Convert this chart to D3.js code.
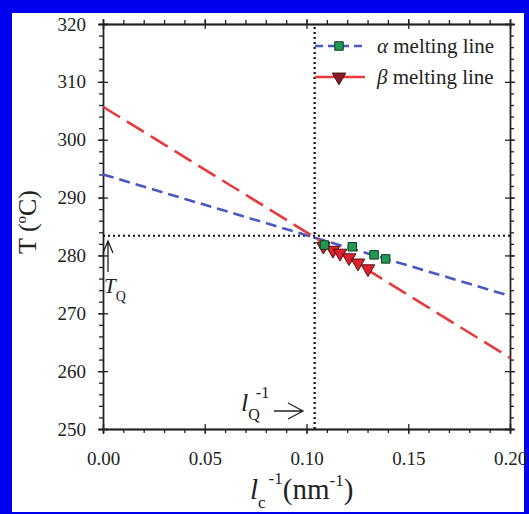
<!DOCTYPE html>
<html><head><meta charset="utf-8">
<script src="https://cdn.jsdelivr.net/npm/d3@7"></script>
<style>
html,body{margin:0;padding:0;background:#fff;}
svg{display:block;}
svg text{font-family:"Liberation Serif","Times New Roman",serif !important;fill:#222;}
</style></head>
<body>
<svg id="chart" width="529" height="514" font-family="Liberation Serif"></svg>
<script>
// ---- data ----
const xTicks = [0.00, 0.05, 0.10, 0.15, 0.20];
const yTicks = [250, 260, 270, 280, 290, 300, 310, 320];
const alphaLineX = [0.0, 0.2];
const alphaLineT = [294.0, 273.0];
const betaLineX = [0.0, 0.2];
const betaLineT = [305.7, 262.3];
const alphaX = [0.1088, 0.1225, 0.1332, 0.1389];
const alphaT = [281.8, 281.5, 280.1, 279.4];
const betaX = [0.1083, 0.1130, 0.1165, 0.1209, 0.1253, 0.1302];
const betaT = [281.6, 280.9, 280.4, 279.6, 278.7, 277.7];
const invLQ = 0.104;
const TQ = 283.4;
const legendLabels = ["α", "β"];

const svg = d3.select("#chart");
const W = 529, H = 514;
const SERIF = "'Liberation Serif','Times New Roman',serif";

// blue frame
svg.append("rect").attr("x",0).attr("y",0).attr("width",W).attr("height",H).attr("fill","#0000f0");
svg.append("rect").attr("x",12).attr("y",13).attr("width",W-12-5).attr("height",H-13-2).attr("fill","#fff");

const x = d3.scaleLinear().domain([0,0.2]).range([103,510]);
const y = d3.scaleLinear().domain([250,320]).range([429,24]);

const minorX = d3.range(0,0.2001,0.01);
const minorY = d3.range(250,320.01,2);
const axisCol = "#222";

function styleAxis(g){
  g.attr("font-family",SERIF);
  g.selectAll("path.domain").attr("stroke",axisCol).attr("stroke-width",1.3);
  g.selectAll(".tick line").attr("stroke",axisCol).attr("stroke-width",1.3);
}

// bottom
svg.append("g").attr("transform",`translate(0,${y(250)})`)
  .call(d3.axisBottom(x).tickValues(minorX).tickSize(4).tickFormat("")).call(styleAxis);
svg.append("g").attr("transform",`translate(0,${y(250)})`)
  .call(d3.axisBottom(x).tickValues(xTicks).tickSize(5).tickPadding(18).tickFormat(d3.format(".2f")))
  .call(styleAxis)
  .call(g=>g.selectAll("text").attr("font-size",19).attr("font-family",SERIF).attr("fill","#222"));
svg.append("g").attr("transform",`translate(0,${y(250)})`)
  .call(d3.axisTop(x).tickValues(xTicks).tickSize(5).tickFormat("")).call(styleAxis);
// top
svg.append("g").attr("transform",`translate(0,${y(320)})`)
  .call(d3.axisTop(x).tickValues(minorX).tickSize(4).tickFormat("")).call(styleAxis);
svg.append("g").attr("transform",`translate(0,${y(320)})`)
  .call(d3.axisBottom(x).tickValues(xTicks).tickSize(5).tickFormat("")).call(styleAxis);
svg.append("g").attr("transform",`translate(0,${y(320)})`)
  .call(d3.axisTop(x).tickValues(xTicks).tickSize(5).tickFormat("")).call(styleAxis);
// left
svg.append("g").attr("transform",`translate(${x(0)},0)`)
  .call(d3.axisLeft(y).tickValues(minorY).tickSize(4).tickFormat("")).call(styleAxis);
svg.append("g").attr("transform",`translate(${x(0)},0)`)
  .call(d3.axisLeft(y).tickValues(yTicks).tickSize(5).tickPadding(12).tickFormat(d3.format("d")))
  .call(styleAxis)
  .call(g=>g.selectAll("text").attr("font-size",19).attr("font-family",SERIF).attr("fill","#222"));
svg.append("g").attr("transform",`translate(${x(0)},0)`)
  .call(d3.axisRight(y).tickValues(yTicks).tickSize(5).tickFormat("")).call(styleAxis);
// right
svg.append("g").attr("transform",`translate(${x(0.2)},0)`)
  .call(d3.axisRight(y).tickValues(minorY).tickSize(4).tickFormat("")).call(styleAxis);
svg.append("g").attr("transform",`translate(${x(0.2)},0)`)
  .call(d3.axisRight(y).tickValues(yTicks).tickSize(5).tickFormat("")).call(styleAxis);
svg.append("g").attr("transform",`translate(${x(0.2)},0)`)
  .call(d3.axisLeft(y).tickValues(yTicks).tickSize(5).tickFormat("")).call(styleAxis);

const blue = "#4a58c4", red = "#e83a3a";
const line = d3.line().x(d=>x(d[0])).y(d=>y(d[1]));

// dotted guides
svg.append("path").attr("d",line([[invLQ,250],[invLQ,320]]))
  .attr("stroke","#111").attr("stroke-width",2.2).attr("stroke-dasharray","2,3").attr("fill","none");
svg.append("path").attr("d",line([[0,TQ],[0.2,TQ]]))
  .attr("stroke","#111").attr("stroke-width",2.2).attr("stroke-dasharray","2,3").attr("fill","none");

// melting lines
svg.append("path").attr("d",line(alphaLineX.map((v,i)=>[v,alphaLineT[i]])))
  .attr("stroke",blue).attr("stroke-width",2.6).attr("stroke-dasharray","11,6").attr("fill","none");
svg.append("path").attr("d",line(betaLineX.map((v,i)=>[v,betaLineT[i]])))
  .attr("stroke",red).attr("stroke-width",2.6).attr("stroke-dasharray","20,8").attr("fill","none");

const sq = d3.symbol().type(d3.symbolSquare).size(72);
const tri = d3.symbol().type(d3.symbolTriangle).size(80);
const green = "#1f9a55";

svg.append("g").selectAll("path").data(betaX.map((v,i)=>[v,betaT[i]])).join("path")
  .attr("d",tri).attr("transform",d=>`translate(${x(d[0])},${y(d[1])}) rotate(180)`)
  .attr("fill","#e0202c").attr("stroke","#4a1010").attr("stroke-width",1);
svg.append("g").selectAll("path").data(alphaX.map((v,i)=>[v,alphaT[i]])).join("path")
  .attr("d",sq).attr("transform",d=>`translate(${x(d[0])},${y(d[1])})`)
  .attr("fill",green).attr("stroke","#123a1e").attr("stroke-width",1);

// legend
const lg = svg.append("g");
const ly = [46, 77];
lg.append("line").attr("x1",315).attr("x2",365).attr("y1",ly[0]).attr("y2",ly[0])
  .attr("stroke",blue).attr("stroke-width",2.6).attr("stroke-dasharray","8,5");
lg.append("path").attr("d",sq).attr("transform",`translate(339,${ly[0]})`)
  .attr("fill",green).attr("stroke","#123a1e").attr("stroke-width",1);
lg.append("line").attr("x1",315).attr("x2",365).attr("y1",ly[1]).attr("y2",ly[1])
  .attr("stroke",red).attr("stroke-width",2.6);
lg.append("path").attr("d",tri).attr("transform",`translate(339,${ly[1]}) rotate(180)`)
  .attr("fill","#8a1a2a").attr("stroke","#4a1010").attr("stroke-width",1);
legendLabels.forEach((g,i)=>{
  const t = lg.append("text").attr("x",377).attr("y",ly[i]+7).attr("font-size",21).attr("font-family",SERIF);
  t.append("tspan").attr("font-style","italic").text(g);
  t.append("tspan").text(" melting line");
});

// axis titles
const yl = svg.append("text").attr("transform","translate(36,222) rotate(-90)")
  .attr("text-anchor","middle").attr("font-size",26).attr("font-family",SERIF);
yl.append("tspan").text("T (");
yl.append("tspan").attr("font-size",15).attr("dy",-10).text("o");
yl.append("tspan").attr("dy",10).text("C)");

const xl = svg.append("text").attr("x",250).attr("y",499).attr("font-size",29).attr("font-family",SERIF);
xl.append("tspan").attr("font-style","italic").text("l");
xl.append("tspan").attr("font-size",17).attr("dy",9).text("c");
xl.append("tspan").attr("font-size",17).attr("dy",-24).attr("dx",3).text("-1");
xl.append("tspan").attr("dy",15).text("(nm");
xl.append("tspan").attr("font-size",17).attr("dy",-13).text("-1");
xl.append("tspan").attr("dy",13).text(")");

// T_Q annotation
const ax = 108;
svg.append("path").attr("d",`M${ax},272 L${ax},241 M${ax-5},253 L${ax},241 L${ax+5},253`)
  .attr("stroke","#222").attr("stroke-width",1.3).attr("fill","none");
const tq = svg.append("text").attr("x",104).attr("y",293).attr("font-size",21).attr("font-family",SERIF);
tq.append("tspan").attr("font-style","italic").text("T");
tq.append("tspan").attr("font-size",14).attr("dy",8).text("Q");

// l_Q^-1 annotation
const lq = svg.append("text").attr("x",241).attr("y",411).attr("font-size",26).attr("font-family",SERIF);
lq.append("tspan").attr("font-style","italic").text("l");
lq.append("tspan").attr("font-size",16).attr("dy",9).text("Q");
lq.append("tspan").attr("font-size",16).attr("dy",-22).attr("dx",-4).text("-1");
svg.append("path").attr("d",`M274,411 L303,411 M288,403 L303,411 L288,419`)
  .attr("stroke","#222").attr("stroke-width",1.3).attr("fill","none");
</script>
</body></html>
